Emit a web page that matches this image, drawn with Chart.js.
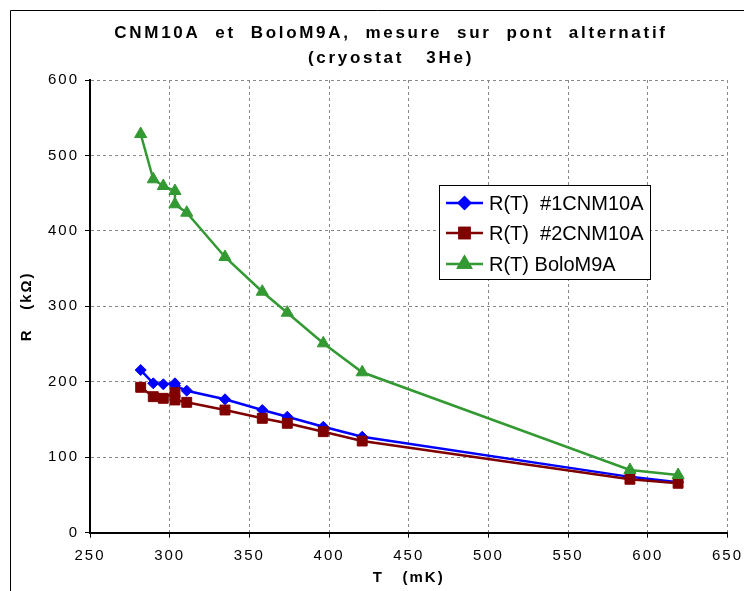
<!DOCTYPE html>
<html>
<head>
<meta charset="utf-8">
<title>CNM10A et BoloM9A</title>
<script src="https://cdn.jsdelivr.net/npm/chart.js@4/dist/chart.umd.min.js"></script>
<style>
  body { margin: 0; background: #fff; }
  canvas { display: block; }
</style>
</head>
<body>
<canvas id="rtChart" width="744" height="591"></canvas>
<script>
// temperatures (mK), shared by the three series
const temps = [281.8, 289.7, 296, 303.3, 303.3, 310.7, 334.7, 358.1, 373.8, 396.4, 420.8, 588.8, 619];
// resistances (kOhm)
const cnm1 = [215.6, 198, 196.7, 198, 195, 188.2, 176.8, 162.6, 153.7, 140.5, 127.2, 74, 67];
const cnm2 = [192.7, 180.3, 178.1, 185.6, 175.9, 172.8, 162.6, 151.6, 145, 133.9, 121.5, 70.8, 65.5];
const bolo = [528.4, 468.4, 459.5, 452.9, 435.3, 424.1, 365.4, 319.4, 291.6, 251, 212.6, 83.1, 76.5];

const seriesLabels = ['R(T)  #1CNM10A', 'R(T)  #2CNM10A', 'R(T) BoloM9A'];
const titleLines = ['CNM10A  et  BoloM9A,  mesure  sur  pont  alternatif', '(cryostat   3He)'];
const xTitle = 'T   (mK)';
const yTitle = 'R   (k\u03A9)';

const FONT = 'Arial, "Liberation Sans", sans-serif';

function toPoints(values) {
  return values.map((v, i) => ({ x: temps[i], y: v }));
}

// spaced-out text for ticks and axis titles
const spacingPlugin = {
  id: 'spacing',
  beforeUpdate(chart) { chart.ctx.letterSpacing = '2px'; },
  beforeDraw(chart) { chart.ctx.letterSpacing = '2px'; }
};

const decorPlugin = {
  id: 'decor',
  afterDraw(chart) {
    const ctx = chart.ctx;
    ctx.save();

    // outer frame (left and top edges)
    ctx.strokeStyle = '#000';
    ctx.lineWidth = 1;
    ctx.beginPath();
    ctx.moveTo(10.5, 591);
    ctx.lineTo(10.5, 10.5);
    ctx.lineTo(744, 10.5);
    ctx.stroke();

    // title
    ctx.fillStyle = '#000';
    ctx.font = 'bold 17px ' + FONT;
    ctx.letterSpacing = '2.7px';
    ctx.textAlign = 'center';
    ctx.textBaseline = 'middle';
    ctx.fillText(titleLines[0], 391, 33);
    ctx.fillText(titleLines[1], 391, 58);

    // legend box
    const bx = 439.5, by = 185.5, bw = 211, bh = 94;
    ctx.fillStyle = '#fff';
    ctx.fillRect(bx, by, bw, bh);
    ctx.strokeStyle = '#000';
    ctx.strokeRect(bx, by, bw, bh);

    ctx.letterSpacing = '0px';
    ctx.font = '20px ' + FONT;
    ctx.textAlign = 'left';
    const rows = [203, 233, 264];
    chart.data.datasets.forEach((ds, i) => {
      const y = rows[i];
      ctx.strokeStyle = ds.borderColor;
      ctx.lineWidth = 2.5;
      ctx.beginPath();
      ctx.moveTo(446, y);
      ctx.lineTo(483, y);
      ctx.stroke();
      Chart.helpers.drawPoint(ctx, {
        pointStyle: ds.pointStyle,
        radius: ds.pointRadius,
        borderWidth: 1
      }, 464.5, y);
      ctx.fillStyle = ds.pointBackgroundColor;
      ctx.strokeStyle = ds.borderColor;
      ctx.fill();
      ctx.stroke();
      ctx.fillStyle = '#000';
      ctx.fillText(seriesLabels[i], 489, y + 1);
    });

    ctx.restore();
  }
};

function makeDataset(label, values, color, style, radius, order) {
  return {
    label: label,
    data: toPoints(values),
    showLine: true,
    borderColor: color,
    backgroundColor: color,
    pointBackgroundColor: color,
    pointBorderColor: color,
    borderWidth: 2.5,
    pointStyle: style,
    pointRadius: radius,
    pointBorderWidth: 1,
    tension: 0,
    order: order
  };
}

const ctx = document.getElementById('rtChart').getContext('2d');
new Chart(ctx, {
  type: 'scatter',
  data: {
    datasets: [
      makeDataset(seriesLabels[0], cnm1, '#0000ff', 'rectRot', 5.5, 3),
      makeDataset(seriesLabels[1], cnm2, '#800000', 'rect', 7, 2),
      makeDataset(seriesLabels[2], bolo, '#339933', 'triangle', 7, 1)
    ]
  },
  options: {
    responsive: false,
    animation: false,
    devicePixelRatio: 1,
    layout: { padding: { top: 80, right: 16.5, left: 0, bottom: 0 } },
    plugins: {
      legend: { display: false },
      title: { display: false },
      tooltip: { enabled: false }
    },
    scales: {
      x: {
        type: 'linear',
        min: 250,
        max: 650,
        ticks: { stepSize: 50, color: '#000', font: { family: FONT, size: 15 }, padding: 9 },
        grid: {
          color: '#888',
          tickBorderDash: [],
          tickColor: '#000',
          tickLength: 5,
          lineWidth: 1
        },
        border: { color: '#000', width: 2, dash: [3, 3] },
        title: {
          display: true,
          text: xTitle,
          color: '#000',
          font: { family: FONT, size: 15, weight: 'bold' },
          padding: { top: 0, bottom: 4 }
        },
        afterFit(scale) {
          scale.height = 58.3;
          scale.paddingLeft = 0;
          scale.paddingRight = 0;
        }
      },
      y: {
        type: 'linear',
        min: 0,
        max: 600,
        ticks: { stepSize: 100, color: '#000', font: { family: FONT, size: 15 }, padding: 6 },
        grid: {
          color: '#888',
          tickBorderDash: [],
          tickColor: '#000',
          tickLength: 5,
          lineWidth: 1
        },
        border: { color: '#000', width: 2, dash: [3, 3] },
        title: {
          display: true,
          text: yTitle,
          color: '#000',
          font: { family: FONT, size: 15, weight: 'bold' },
          padding: { top: 18, bottom: 0 }
        },
        afterFit(scale) {
          scale.width = 90;
          scale.paddingTop = 0;
          scale.paddingBottom = 0;
        }
      }
    }
  },
  plugins: [spacingPlugin, decorPlugin]
});
</script>
</body>
</html>
